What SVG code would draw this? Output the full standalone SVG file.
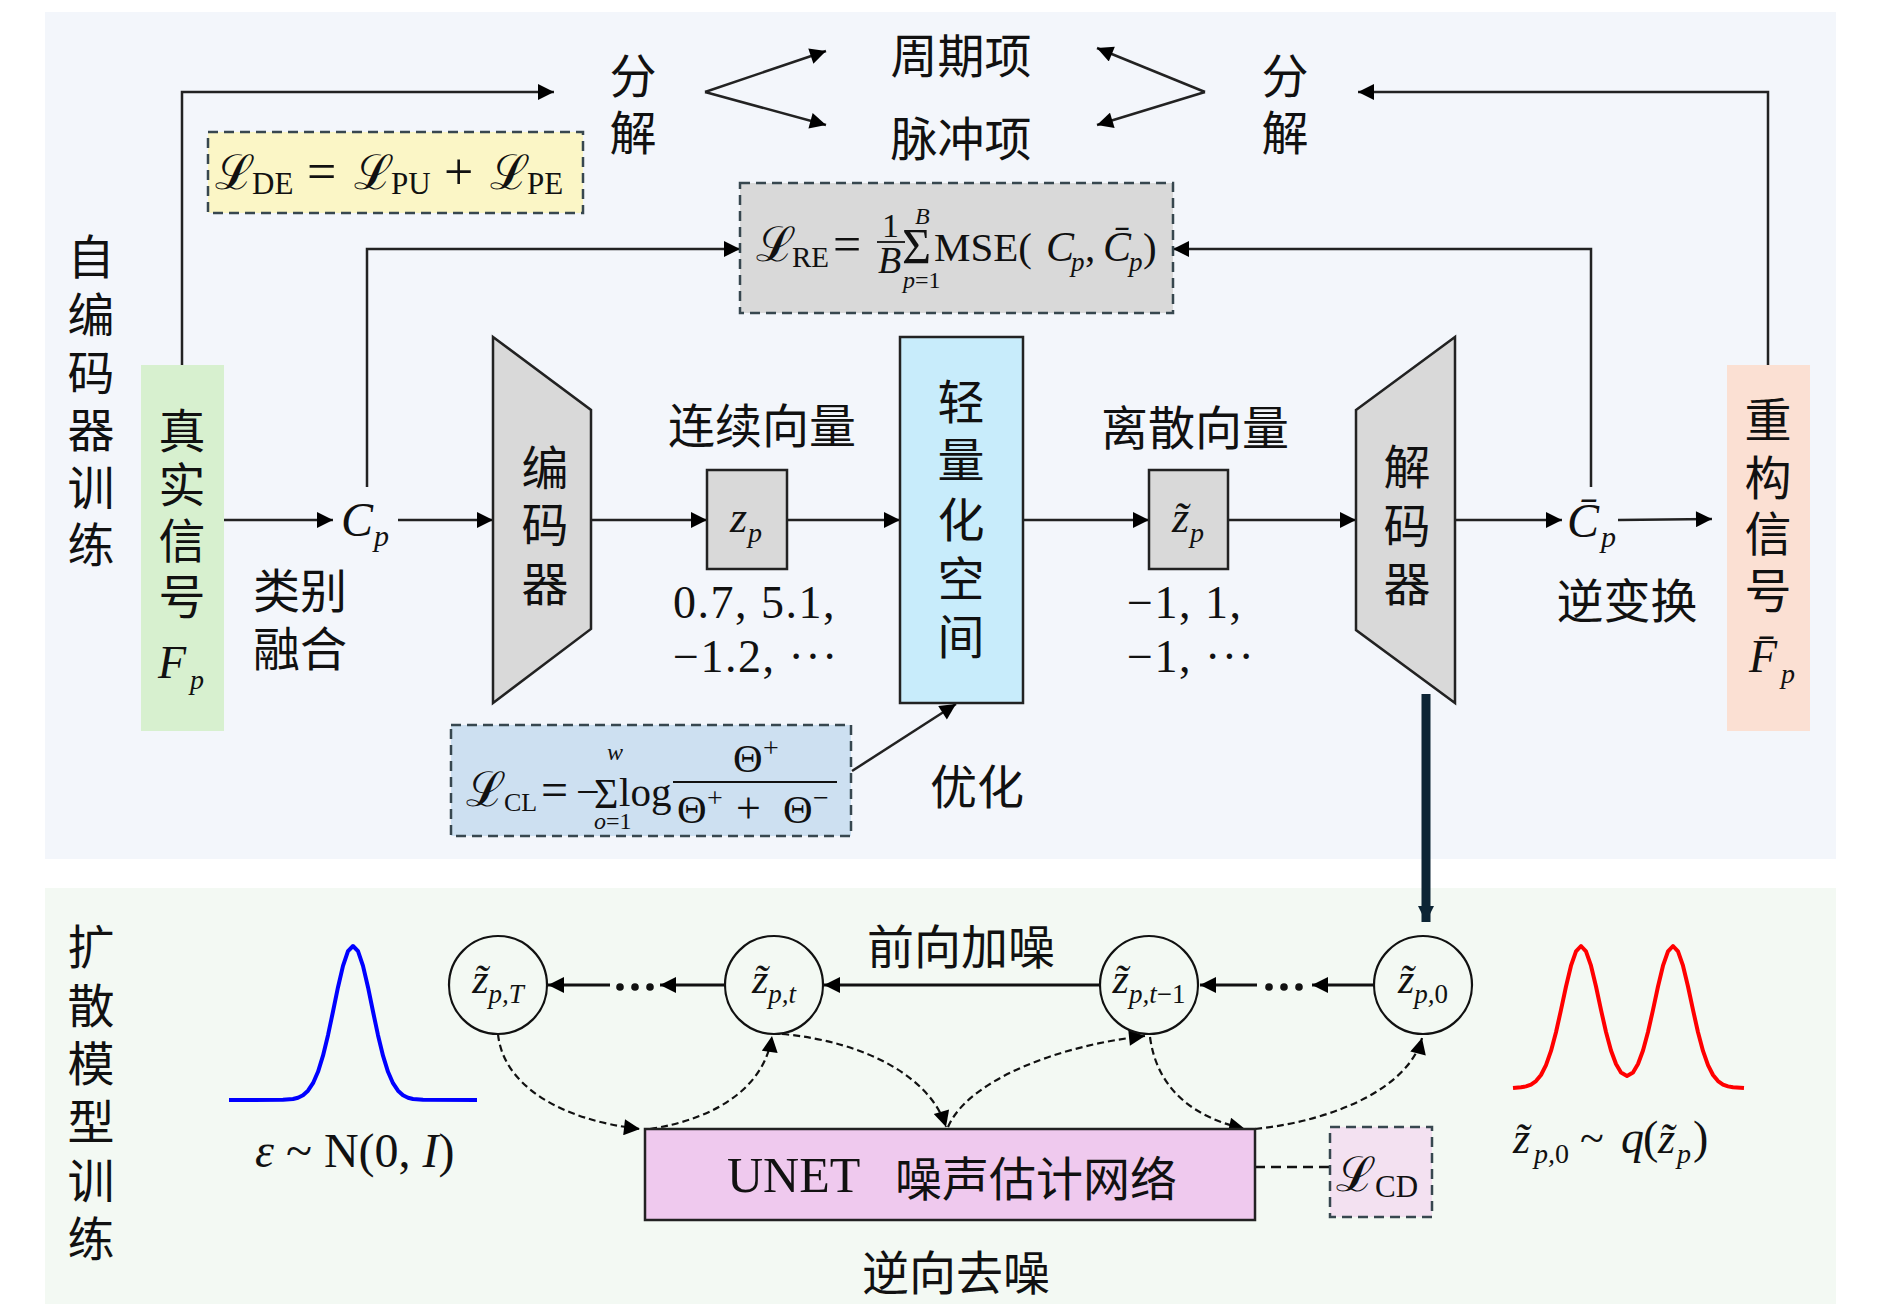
<svg xmlns="http://www.w3.org/2000/svg" width="1890" height="1308" viewBox="0 0 1890 1308">
<defs>
<marker id="ah" viewBox="0 0 10 10" refX="10" refY="5" markerWidth="19" markerHeight="16" markerUnits="userSpaceOnUse" orient="auto"><path d="M0,0 L10,5 L0,10 z" fill="#000"/></marker>
<marker id="ahb" viewBox="0 0 10 10" refX="10" refY="5" markerWidth="16" markerHeight="26" markerUnits="userSpaceOnUse" orient="auto"><path d="M0,0 L10,5 L0,10 z" fill="#0d2535"/></marker>
<style>
.cj{font-family:"Noto Sans CJK SC","Noto Sans CJK JP",sans-serif;font-size:47px;fill:#111;text-anchor:middle;dominant-baseline:central}
.m{font-family:"Liberation Serif","DejaVu Serif",serif;fill:#111}
.i{font-style:italic}
.sc{font-family:"DejaVu Serif","Liberation Serif",serif;font-size:48px;font-style:normal}
.ar{stroke:#222;stroke-width:2.5;fill:none;marker-end:url(#ah)}
.ab{stroke:#111;stroke-width:3;fill:none;marker-end:url(#ah)}
.dc{stroke:#111;stroke-width:2.2;fill:none;stroke-dasharray:7 4;marker-end:url(#ah)}
.dash{stroke:#37474f;stroke-width:2.5;stroke-dasharray:10 6}
.box{stroke:#222;stroke-width:2.5}
</style>
</defs>

<!-- background panels -->
<rect x="45" y="12" width="1791" height="847" fill="#f3f6fb"/>
<rect x="45" y="888" width="1791" height="416" fill="#f3f9f3"/>

<!-- section labels -->
<g id="label-autoencoder">
<text class="cj"><tspan x="91" y="253">自</tspan><tspan x="91" y="311">编</tspan><tspan x="91" y="369">码</tspan><tspan x="91" y="426">器</tspan><tspan x="91" y="484">训</tspan><tspan x="91" y="541">练</tspan></text>
</g>
<g id="label-diffusion">
<text class="cj"><tspan x="91" y="943">扩</tspan><tspan x="91" y="1002">散</tspan><tspan x="91" y="1060">模</tspan><tspan x="91" y="1118">型</tspan><tspan x="91" y="1177">训</tspan><tspan x="91" y="1235">练</tspan></text>
</g>

<!-- connectors -->
<g id="connectors">
<polyline class="ar" points="182,365 182,92 554,92"/>
<polyline class="ar" points="1768,365 1768,92 1358,92"/>
<line class="ar" x1="705" y1="92" x2="826" y2="51"/>
<line class="ar" x1="705" y1="92" x2="826" y2="125"/>
<line class="ar" x1="1205" y1="92" x2="1097" y2="48"/>
<line class="ar" x1="1205" y1="92" x2="1097" y2="125"/>
<polyline class="ar" points="367,487 367,249 740,249"/>
<polyline class="ar" points="1591,487 1591,249 1173,249"/>
<line class="ar" x1="224" y1="520" x2="333" y2="520"/>
<line class="ar" x1="398" y1="520" x2="493" y2="520"/>
<line class="ar" x1="591" y1="520" x2="707" y2="520"/>
<line class="ar" x1="787" y1="520" x2="900" y2="520"/>
<line class="ar" x1="1023" y1="520" x2="1149" y2="520"/>
<line class="ar" x1="1228" y1="520" x2="1356" y2="520"/>
<line class="ar" x1="1455" y1="520" x2="1562" y2="520"/>
<line class="ar" x1="1618" y1="520" x2="1712" y2="519"/>
<line class="ar" x1="852" y1="771" x2="956" y2="704"/>
<line x1="1426" y1="694" x2="1426" y2="922" stroke="#0d2535" stroke-width="9" marker-end="url(#ahb)"/>
<!-- forward noising chain -->
<line class="ab" x1="1375" y1="985" x2="1312" y2="985"/>
<circle cx="1269" cy="987" r="3.8" fill="#111"/><circle cx="1284" cy="987" r="3.8" fill="#111"/><circle cx="1299" cy="987" r="3.8" fill="#111"/>
<line class="ab" x1="1257" y1="985" x2="1200" y2="985"/>
<line class="ab" x1="1100" y1="985" x2="824" y2="985"/>
<line class="ab" x1="725" y1="985" x2="660" y2="985"/>
<circle cx="620" cy="987" r="3.8" fill="#111"/><circle cx="635" cy="987" r="3.8" fill="#111"/><circle cx="650" cy="987" r="3.8" fill="#111"/>
<line class="ab" x1="610" y1="985" x2="548" y2="985"/>
<!-- reverse denoising curves -->
<path class="dc" d="M498,1034 C503,1085 560,1120 640,1129"/>
<path class="dc" d="M650,1129 C720,1118 765,1085 772,1036"/>
<path class="dc" d="M782,1034 C870,1042 932,1080 946,1127"/>
<path class="dc" d="M948,1127 C968,1080 1060,1045 1145,1036"/>
<path class="dc" d="M1150,1037 C1157,1090 1195,1118 1245,1129"/>
<path class="dc" d="M1255,1129 C1340,1120 1410,1085 1422,1038"/>
<line x1="1255" y1="1167" x2="1330" y2="1167" stroke="#111" stroke-width="2.5" stroke-dasharray="10 6"/>
</g>

<!-- top decomposition texts -->
<g id="decomp-left">
<text class="cj"><tspan x="633" y="72">分</tspan><tspan x="633" y="129">解</tspan></text>
</g>
<g id="periodic"><text class="cj" x="961" y="52">周期项</text></g>
<g id="pulse"><text class="cj" x="961" y="135">脉冲项</text></g>
<g id="decomp-right">
<text class="cj"><tspan x="1285" y="72">分</tspan><tspan x="1285" y="129">解</tspan></text>
</g>

<!-- L_DE -->
<g id="loss-de">
<rect x="208" y="132" width="375" height="81" fill="#fbf6c6" class="dash"/>
<text class="m"><tspan class="sc" x="215" y="189">ℒ</tspan><tspan x="252" y="194" font-size="31">DE</tspan><tspan x="307" y="189" font-size="52">=</tspan><tspan class="sc" x="354" y="189">ℒ</tspan><tspan x="391" y="194" font-size="31">PU</tspan><tspan x="444" y="189" font-size="52">+</tspan><tspan class="sc" x="490" y="189">ℒ</tspan><tspan x="527" y="194" font-size="31">PE</tspan></text>
</g>

<!-- L_RE -->
<g id="loss-re">
<rect x="740" y="183" width="433" height="130" fill="#d9d9d9" class="dash"/>
<line x1="877" y1="242" x2="905" y2="242" stroke="#111" stroke-width="1.8"/>
<text class="m"><tspan class="sc" x="756" y="261">ℒ</tspan><tspan x="792" y="267" font-size="29">RE</tspan><tspan x="833" y="261" font-size="50">=</tspan><tspan x="882" y="237" font-size="34">1</tspan><tspan class="i" x="878" y="273" font-size="38">B</tspan><tspan x="902" y="263" font-size="50">Σ</tspan><tspan class="i" x="915" y="224" font-size="24">B</tspan><tspan class="i" x="903" y="288" font-size="24">p</tspan><tspan font-size="24">=1</tspan><tspan x="934" y="261" font-size="41">MSE(</tspan><tspan class="i" x="1046" y="261" font-size="42">C</tspan><tspan class="i" x="1071" y="271" font-size="27">p</tspan><tspan x="1085" y="261" font-size="41">,</tspan><tspan class="i" x="1103" y="261" font-size="42">C̄</tspan><tspan class="i" x="1129" y="271" font-size="27">p</tspan><tspan x="1143" y="261" font-size="41">)</tspan></text>
</g>

<!-- real signal -->
<g id="real-signal">
<rect x="141" y="365" width="83" height="366" fill="#d7f0cf"/>
<text class="cj"><tspan x="182" y="427">真</tspan><tspan x="182" y="481">实</tspan><tspan x="182" y="537">信</tspan><tspan x="182" y="593">号</tspan></text>
<text class="m i"><tspan x="158" y="678" font-size="46">F</tspan><tspan x="190" y="689" font-size="28">p</tspan></text>
</g>

<g id="cp">
<text class="m i"><tspan x="341" y="536" font-size="48">C</tspan><tspan x="374" y="546" font-size="30">p</tspan></text>
</g>
<g id="class-fusion">
<text class="cj"><tspan x="300" y="587">类别</tspan><tspan x="300" y="645">融合</tspan></text>
</g>

<!-- encoder -->
<g id="encoder">
<polygon points="493,337 591,410 591,629 493,703" fill="#d9d9d9" class="box"/>
<text class="cj"><tspan x="545" y="464">编</tspan><tspan x="545" y="521">码</tspan><tspan x="545" y="580">器</tspan></text>
</g>

<!-- z_p -->
<g id="zp">
<rect x="707" y="470" width="80" height="99" fill="#d9d9d9" class="box"/>
<text class="m i"><tspan x="730" y="532" font-size="44">z</tspan><tspan x="748" y="542" font-size="28">p</tspan></text>
</g>
<g id="continuous-label">
<text class="cj" x="762" y="422">连续向量</text>
<text class="m" font-size="46" letter-spacing="1.5"><tspan x="673" y="618">0.7, 5.1,</tspan><tspan x="673" y="672">−1.2,  ···</tspan></text>
</g>

<!-- lightweight quantization space -->
<g id="quant-space">
<rect x="900" y="337" width="123" height="366" fill="#c8ecfb" class="box"/>
<text class="cj"><tspan x="961" y="398">轻</tspan><tspan x="961" y="456">量</tspan><tspan x="961" y="516">化</tspan><tspan x="961" y="575">空</tspan><tspan x="961" y="633">间</tspan></text>
</g>

<!-- z tilde p -->
<g id="zp-tilde">
<rect x="1149" y="470" width="79" height="99" fill="#d9d9d9" class="box"/>
<text class="m i"><tspan x="1172" y="532" font-size="44">z̃</tspan><tspan x="1190" y="542" font-size="28">p</tspan></text>
</g>
<g id="discrete-label">
<text class="cj" x="1195" y="424">离散向量</text>
<text class="m" font-size="46" letter-spacing="1.5"><tspan x="1127" y="618">−1, 1,</tspan><tspan x="1127" y="672">−1,  ···</tspan></text>
</g>

<!-- decoder -->
<g id="decoder">
<polygon points="1356,410 1455,337 1455,703 1356,630" fill="#d9d9d9" class="box"/>
<text class="cj"><tspan x="1407" y="463">解</tspan><tspan x="1407" y="522">码</tspan><tspan x="1407" y="580">器</tspan></text>
</g>

<g id="cp-bar">
<text class="m i"><tspan x="1567" y="537" font-size="48">C̄</tspan><tspan x="1601" y="547" font-size="30">p</tspan></text>
</g>
<g id="inverse-label"><text class="cj" x="1627" y="597">逆变换</text></g>

<!-- reconstructed signal -->
<g id="recon-signal">
<rect x="1727" y="365" width="83" height="366" fill="#fbe0d3"/>
<text class="cj"><tspan x="1768" y="416">重</tspan><tspan x="1768" y="474">构</tspan><tspan x="1768" y="530">信</tspan><tspan x="1768" y="587">号</tspan></text>
<text class="m i"><tspan x="1749" y="672" font-size="46">F̄</tspan><tspan x="1781" y="683" font-size="28">p</tspan></text>
</g>

<!-- L_CL -->
<g id="loss-cl">
<rect x="451" y="725" width="400" height="111" fill="#cde0f1" class="dash"/>
<line x1="673" y1="782" x2="837" y2="782" stroke="#111" stroke-width="2"/>
<text class="m"><tspan class="sc" x="466" y="806">ℒ</tspan><tspan x="504" y="811" font-size="26">CL</tspan><tspan x="541" y="806" font-size="48">=</tspan><tspan x="576" y="806" font-size="42">−</tspan><tspan x="594" y="808" font-size="42">Σ</tspan><tspan class="i" x="607" y="760" font-size="24">w</tspan><tspan class="i" x="594" y="829" font-size="24">o</tspan><tspan font-size="24">=1</tspan><tspan x="619" y="806" font-size="41">log</tspan><tspan x="733" y="772" font-size="41">Θ</tspan><tspan x="763" y="757" font-size="28">+</tspan><tspan x="677" y="823" font-size="41">Θ</tspan><tspan x="707" y="807" font-size="28">+</tspan><tspan x="736" y="823" font-size="44">+</tspan><tspan x="783" y="823" font-size="41">Θ</tspan><tspan x="813" y="807" font-size="28">−</tspan></text>
</g>
<g id="optimize-label"><text class="cj" x="977" y="783">优化</text></g>

<!-- diffusion nodes -->
<g id="z-T">
<circle cx="498" cy="985" r="49" fill="none" stroke="#111" stroke-width="2.2"/>
<text class="m i" x="498" y="993" text-anchor="middle"><tspan font-size="42">z̃</tspan><tspan font-size="27" dy="10">p,T</tspan></text>
</g>
<g id="z-t">
<circle cx="774" cy="985" r="49" fill="none" stroke="#111" stroke-width="2.2"/>
<text class="m i" x="774" y="993" text-anchor="middle"><tspan font-size="42">z̃</tspan><tspan font-size="27" dy="10">p,t</tspan></text>
</g>
<g id="z-t-1">
<circle cx="1149" cy="985" r="49" fill="none" stroke="#111" stroke-width="2.2"/>
<text class="m i" x="1149" y="993" text-anchor="middle"><tspan font-size="42">z̃</tspan><tspan font-size="27" dy="10">p,t<tspan font-style="normal">−1</tspan></tspan></text>
</g>
<g id="z-0">
<circle cx="1423" cy="985" r="49" fill="none" stroke="#111" stroke-width="2.2"/>
<text class="m i" x="1423" y="993" text-anchor="middle"><tspan font-size="42">z̃</tspan><tspan font-size="27" dy="10">p,<tspan font-style="normal">0</tspan></tspan></text>
</g>
<g id="forward-label"><text class="cj" x="961" y="943">前向加噪</text></g>

<!-- UNET -->
<g id="unet">
<rect x="645" y="1129" width="610" height="91" fill="#efc9ee" class="box"/>
<text class="m" x="727" y="1192" font-size="50">UNET</text>
<text class="cj" x="1036" y="1175">噪声估计网络</text>
</g>
<g id="reverse-label"><text class="cj" x="956" y="1269">逆向去噪</text></g>

<!-- L_CD -->
<g id="loss-cd">
<rect x="1330" y="1127" width="102" height="90" fill="#f3e1f1" class="dash"/>
<text class="m"><tspan class="sc" x="1336" y="1191">ℒ</tspan><tspan x="1375" y="1197" font-size="31">CD</tspan></text>
</g>

<!-- gaussian noise -->
<g id="noise-dist">
<polyline fill="none" stroke="#0000ff" stroke-width="4" stroke-linejoin="round" points="229,1100 283,1099.8 293,1099 298,1097.7 303,1095.2 308,1090.7 313,1083.2 318,1071.8 323,1055.7 328,1035.2 333,1011.5 338,987.2 343,965.9 348,951.2 353,946 358,951.2 363,965.9 368,987.2 373,1011.5 378,1035.2 383,1055.7 388,1071.8 393,1083.2 398,1090.7 403,1095.2 408,1097.7 413,1099 423,1099.8 477,1100"/>
<text class="m" x="255" y="1167" font-size="48"><tspan class="i">ε</tspan> ~ N(0, <tspan class="i">I</tspan>)</text>
</g>

<!-- data distribution -->
<g id="data-dist">
<polyline fill="none" stroke="#ff0000" stroke-width="4" stroke-linejoin="round" points="1513,1088 1521,1087.3 1526,1086.4 1531,1084.6 1536,1081.1 1541,1075 1546,1065.1 1551,1050.9 1556,1032.2 1561,1009.9 1566,986.5 1571,965.7 1576,951.3 1581,946 1586,951.3 1591,965.7 1596,986.5 1601,1009.9 1606,1032 1611,1050.5 1616,1064 1621,1072.5 1627,1075.9 1633,1072.5 1638,1064 1643,1050.5 1648,1032 1653,1009.9 1658,986.5 1663,965.7 1668,951.3 1673,946 1678,951.3 1683,965.7 1688,986.5 1693,1009.9 1698,1032.2 1703,1050.9 1708,1065.1 1713,1075 1718,1081.1 1723,1084.6 1728,1086.4 1733,1087.3 1744,1088"/>
<text class="m"><tspan class="i" x="1513" y="1153" font-size="44">z̃</tspan><tspan class="i" x="1534" y="1163" font-size="28">p,</tspan><tspan font-size="28">0</tspan><tspan x="1580" y="1153" font-size="44">~</tspan><tspan class="i" x="1621" y="1153" font-size="46">q</tspan><tspan x="1643" y="1153" font-size="46">(</tspan><tspan class="i" x="1658" y="1153" font-size="44">z̃</tspan><tspan class="i" x="1677" y="1163" font-size="28">p</tspan><tspan x="1693" y="1153" font-size="46">)</tspan></text>
</g>
</svg>
